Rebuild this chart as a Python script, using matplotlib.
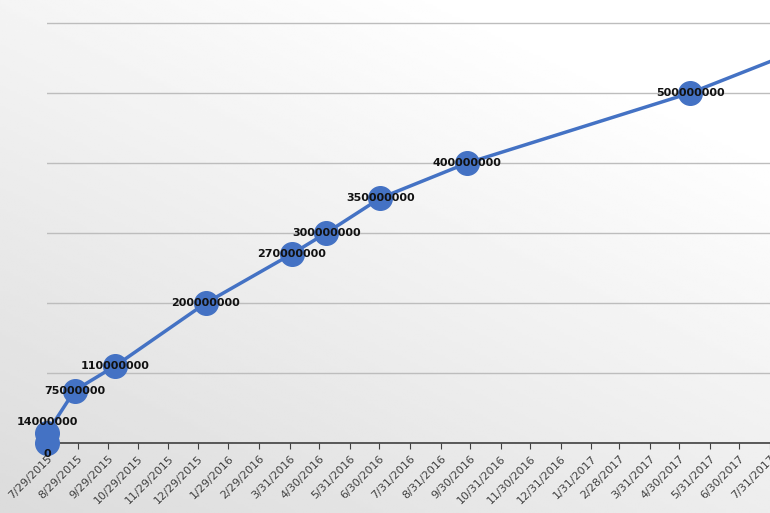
import matplotlib
matplotlib.use("Agg")
import matplotlib.pyplot as plt
import matplotlib.dates as mdates
import numpy as np
import pandas as pd

# data
dates = ["2015-07-29", "2015-07-29", "2015-08-26", "2015-10-06", "2016-01-06",
         "2016-04-02", "2016-05-07", "2016-07-01", "2016-09-27", "2017-05-11", "2017-07-31"]
installs = [0, 14000000, 75000000, 110000000, 200000000,
            270000000, 300000000, 350000000, 400000000, 500000000, 545000000]
labels = ["0", "14000000", "75000000", "110000000", "200000000",
          "270000000", "300000000", "350000000", "400000000", "500000000", ""]
tick_dates = ["2015-07-29", "2015-08-29", "2015-09-29", "2015-10-29", "2015-11-29",
              "2015-12-29", "2016-01-29", "2016-02-29", "2016-03-31", "2016-04-30",
              "2016-05-31", "2016-06-30", "2016-07-31", "2016-08-31", "2016-09-30",
              "2016-10-31", "2016-11-30", "2016-12-31", "2017-01-31", "2017-02-28",
              "2017-03-31", "2017-04-30", "2017-05-31", "2017-06-30", "2017-07-31"]

x = pd.to_datetime(dates)
ticks = pd.to_datetime(tick_dates)

fig = plt.figure(figsize=(7.7, 5.13), dpi=100)

# soft gradient background like the Excel chart area
bg = fig.add_axes([0, 0, 1, 1], zorder=-1)
gx, gy = np.meshgrid(np.linspace(0, 1, 200), np.linspace(0, 1, 200))
grad = 0.86 + 0.14 * np.clip(0.5 * gx + 0.7 * gy, 0, 1)
bg.imshow(grad, cmap="gray", vmin=0, vmax=1, origin="lower", extent=[0, 1, 0, 1], aspect="auto")
bg.axis("off")

ax = fig.add_axes([47 / 770, 70 / 513, 723 / 770, 443 / 513])
ax.patch.set_alpha(0)

ax.plot(x, installs, color="#4472c4", lw=2.5, zorder=3)
ax.plot(x[:-1], installs[:-1], ls="none", marker="o", ms=17,
        mfc="#4472c4", mec="#4472c4", clip_on=False, zorder=3)

for xi, yi, lab in zip(x, installs, labels):
    if not lab:
        continue
    dy = -8 if lab == "0" else (8 if lab == "14000000" else 0)
    ax.annotate(lab, (xi, yi), xytext=(0, dy), textcoords="offset points",
                ha="center", va="center", fontsize=8, fontweight="bold",
                color="#111111", zorder=4, annotation_clip=False)

ax.set_xlim(pd.Timestamp("2015-07-29"), pd.Timestamp("2017-07-10"))
ax.set_ylim(0, 633000000)
ax.set_yticks(np.arange(0, 700000000, 100000000))
ax.yaxis.grid(True, color="#bdbdbd", lw=1)
ax.tick_params(axis="y", left=False, labelleft=False)
ax.set_xticks(ticks)
ax.xaxis.set_major_formatter(mdates.DateFormatter("%-m/%-d/%Y"))
ax.tick_params(axis="x", direction="out", length=4, color="#404040", labelsize=8,
               labelcolor="#404040")
for t in ax.get_xticklabels():
    t.set_rotation(45)
    t.set_ha("right")
    t.set_rotation_mode("anchor")

for s in ["top", "right", "left"]:
    ax.spines[s].set_visible(False)
ax.spines["bottom"].set_color("#404040")
ax.spines["bottom"].set_linewidth(1.2)
ax.set_axisbelow(True)

fig.savefig("out.png", dpi=100)
